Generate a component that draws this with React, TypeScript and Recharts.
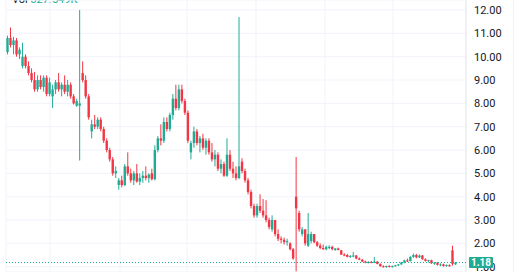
import { ComposedChart, Bar, XAxis, YAxis, CartesianGrid, ReferenceLine } from "recharts";

// daily OHLC left to right
const opens = [
  10.2, 10.8, 10.5, 10.7, 10.1, 9.6, 10.0, 9.6, 9.3, 9.0,
  8.6, 9.0, 8.7, 9.1, 8.4, 8.3, 8.6, 8.9, 8.6, 8.8,
  8.5, 8.8, 8.3, 7.9, 7.9, 9.3, 9.0, 8.3, 6.8, 7.1,
  7.0, 7.3, 6.9, 6.4, 6.0, 5.6, 5.0, 4.5, 4.7, 4.5,
  5.3, 5.0, 4.7, 5.0, 4.65, 4.8, 4.9, 4.8, 5.0, 4.75,
  6.0, 6.5, 6.4, 7.2, 6.9, 7.5, 8.2, 7.8, 8.6, 8.1,
  7.6, 5.9, 6.3, 6.8, 6.3, 6.5, 6.1, 6.4, 5.9, 5.6,
  5.8, 5.2, 5.4, 4.9, 5.8, 5.2, 5.0, 4.8, 5.5, 5.1,
  4.7, 4.2, 3.6, 3.2, 3.6, 3.4, 3.2, 3.0, 2.6, 3.0,
  2.4, 2.2, 2.15, 2.05, 2.0, 1.75, 4.0, 3.3, 2.4, 2.6,
  1.9, 2.1, 2.4, 2.05, 1.9, 1.8, 1.75, 1.8, 1.85, 1.72,
  1.78, 1.7, 1.52, 1.5, 1.42, 1.44, 1.48, 1.35, 1.3, 1.22,
  1.18, 1.2, 1.17, 1.22, 1.12, 1.02, 1.0, 1.03, 0.99, 1.03,
  1.06, 1.1, 1.18, 1.27, 1.24, 1.42, 1.5, 1.4, 1.48, 1.32,
  1.25, 1.28, 1.15, 1.17, 1.08, 1.1, 1.03, 1.07, 1.7, 1.1,
];
const highs = [
  10.9, 11.25, 10.85, 10.8, 10.4, 10.6, 10.1, 9.8, 9.5, 9.35,
  9.2, 9.2, 9.2, 9.2, 9.1, 8.8, 9.0, 9.3, 8.9, 9.2,
  9.0, 8.9, 8.4, 8.2, 12.0, 9.8, 9.2, 8.4, 7.3, 7.5,
  7.4, 7.4, 7.0, 6.5, 6.1, 5.7, 5.3, 4.8, 4.9, 5.4,
  5.9, 5.2, 5.1, 5.4, 5.0, 5.1, 5.3, 5.0, 5.2, 6.2,
  6.6, 7.1, 7.4, 7.4, 7.6, 8.4, 8.8, 8.8, 8.8, 8.2,
  7.7, 6.4, 7.0, 6.9, 6.6, 6.7, 6.5, 6.5, 6.3, 6.0,
  5.9, 5.6, 5.5, 6.5, 6.0, 5.5, 5.3, 11.7, 5.65, 5.2,
  4.8, 4.3, 3.7, 3.7, 4.1, 3.9, 3.85, 3.1, 3.2, 3.0,
  2.6, 2.3, 2.25, 2.2, 2.05, 1.8, 5.7, 3.4, 2.7, 2.6,
  3.3, 2.5, 2.4, 2.1, 2.0, 1.95, 1.9, 1.92, 1.9, 1.8,
  1.82, 1.72, 1.58, 1.55, 1.5, 1.63, 1.5, 1.4, 1.33, 1.26,
  1.24, 1.25, 1.41, 1.24, 1.14, 1.06, 1.05, 1.06, 1.05, 1.08,
  1.12, 1.2, 1.3, 1.35, 1.45, 1.56, 1.55, 1.52, 1.5, 1.36,
  1.3, 1.3, 1.2, 1.2, 1.14, 1.13, 1.1, 1.1, 1.9, 1.2,
];
const lows = [
  10.1, 10.4, 10.1, 10.0, 9.9, 9.5, 9.5, 9.2, 8.9, 8.5,
  8.5, 8.6, 8.5, 8.3, 8.3, 7.8, 8.4, 8.5, 8.3, 8.4,
  8.3, 8.2, 7.95, 7.85, 5.55, 8.9, 8.2, 7.3, 6.5, 6.9,
  6.9, 6.8, 6.3, 5.9, 5.5, 4.9, 4.8, 4.3, 4.4, 4.45,
  4.9, 4.6, 4.5, 4.6, 4.5, 4.6, 4.7, 4.6, 4.7, 4.7,
  5.9, 6.2, 6.3, 6.8, 6.8, 7.3, 7.7, 7.7, 8.0, 7.5,
  6.3, 5.6, 6.1, 6.2, 5.9, 6.0, 5.8, 5.8, 5.5, 5.3,
  5.1, 5.0, 4.85, 4.85, 5.1, 4.8, 4.7, 4.75, 5.0, 4.6,
  4.1, 3.5, 3.1, 3.1, 3.3, 3.1, 2.9, 2.6, 2.5, 2.3,
  2.1, 2.0, 1.95, 1.9, 1.7, 1.3, 0.8, 2.5, 2.3, 1.9,
  1.85, 2.0, 2.0, 1.85, 1.75, 1.72, 1.7, 1.75, 1.7, 1.68,
  1.7, 1.5, 1.45, 1.4, 1.38, 1.4, 1.32, 1.28, 1.2, 1.15,
  1.14, 1.15, 1.15, 1.1, 1.0, 0.96, 0.95, 0.97, 0.96, 1.0,
  1.03, 1.08, 1.15, 1.2, 1.22, 1.38, 1.36, 1.37, 1.3, 1.22,
  1.18, 1.12, 1.08, 1.05, 1.02, 1.0, 1.0, 1.0, 1.05, 1.08,
];
const closes = [
  10.8, 10.5, 10.7, 10.1, 10.3, 10.0, 9.6, 9.3, 9.0, 8.6,
  9.0, 8.7, 9.1, 8.4, 8.9, 8.6, 8.9, 8.6, 8.8, 8.5,
  8.8, 8.3, 8.0, 8.1, 8.0, 9.0, 8.3, 7.4, 7.1, 7.0,
  7.3, 6.9, 6.4, 6.0, 5.6, 5.0, 5.1, 4.7, 4.5, 5.3,
  5.0, 4.7, 5.0, 4.65, 4.8, 4.9, 4.8, 4.95, 4.75, 6.0,
  6.5, 6.4, 7.2, 6.9, 7.5, 8.2, 7.8, 8.6, 8.1, 7.6,
  6.4, 6.3, 6.8, 6.3, 6.5, 6.1, 6.4, 5.9, 5.6, 5.8,
  5.2, 5.4, 4.9, 5.8, 5.2, 5.0, 4.8, 5.3, 5.1, 4.7,
  4.2, 3.6, 3.2, 3.6, 3.4, 3.2, 3.0, 2.7, 3.0, 2.4,
  2.2, 2.15, 2.05, 2.1, 1.75, 1.35, 3.5, 2.6, 2.6, 2.0,
  2.4, 2.4, 2.05, 1.9, 1.8, 1.75, 1.85, 1.85, 1.75, 1.78,
  1.72, 1.52, 1.5, 1.42, 1.46, 1.48, 1.35, 1.3, 1.22, 1.18,
  1.2, 1.17, 1.22, 1.12, 1.02, 1.0, 1.03, 0.99, 1.03, 1.06,
  1.1, 1.18, 1.27, 1.24, 1.42, 1.5, 1.4, 1.48, 1.32, 1.25,
  1.28, 1.15, 1.17, 1.08, 1.1, 1.03, 1.07, 1.02, 1.12, 1.18,
];
const priceTicks = [1, 2, 3, 4, 5, 6, 7, 8, 9, 10, 11, 12];
const lastPrice = 1.18;
const volumeText = "327.549K";

const UP = "#22ab94";
const DOWN = "#f23645";

const data = opens.map((o, i) => ({
  i,
  open: o,
  high: highs[i],
  low: lows[i],
  close: closes[i],
  range: [lows[i], highs[i]],
}));

function Candle(props: any) {
  const { x, y, width, height, payload } = props;
  if (!payload || height == null) return null;
  const { open, close, high, low } = payload;
  const color = close >= open ? UP : DOWN;
  const k = height / (high - low || 1);
  const yo = y + (high - open) * k;
  const yc = y + (high - close) * k;
  const cx = x + width / 2;
  const bw = Math.max(1, width * 0.8);
  const top = Math.min(yo, yc);
  const bh = Math.max(1, Math.abs(yc - yo));
  return (
    <g>
      <line x1={cx} x2={cx} y1={y} y2={y + height} stroke={color} strokeWidth={1} />
      <rect x={cx - bw / 2} y={top} width={bw} height={bh} fill={color} />
    </g>
  );
}

function PriceTag(props: any) {
  const { x, y, width } = props.viewBox;
  const left = x + width + 3;
  return (
    <g>
      <rect x={left} y={y - 5.5} width={24} height={11} rx={1} fill={UP} />
      <text x={left + 12} y={y + 3.5} textAnchor="middle" fill="#fff" fontSize={10} fontWeight={700} fontFamily="Roboto">
        {lastPrice.toFixed(2)}
      </text>
    </g>
  );
}

export default function App() {
  return (
    <div style={{ position: "absolute", left: 0, top: 0, width: 520, height: 272, background: "#fff", overflow: "hidden" }}>
      <div style={{ position: "absolute", left: 12, top: -7, fontSize: 11, fontFamily: "Roboto", color: "#131722" }}>
        Vol <span style={{ color: UP }}>{volumeText}</span>
      </div>
      <div style={{ position: "absolute", left: 513, top: 0, width: 1, height: 272, background: "#f0f3fa" }} />
      <ComposedChart width={520} height={272} data={data} margin={{ top: 0, right: 0, bottom: 0, left: 6 }} barCategoryGap={0}>
        <CartesianGrid stroke="#f0f3fa" verticalPoints={[6, 50, 120, 187, 256, 325, 393]} />
        <XAxis dataKey="i" hide padding={{ left: 0, right: 9 }} />
        <YAxis
          orientation="right"
          width={54}
          domain={[0.773, 12.43]}
          allowDataOverflow
          ticks={priceTicks}
          interval={0}
          tickFormatter={(v: number) => v.toFixed(2)}
          tick={{ fontSize: 11, fill: "#131722", fontFamily: "Roboto" }}
          tickLine={false}
          axisLine={{ stroke: "#e0e3eb" }}
        />
        <Bar dataKey="range" shape={<Candle />} isAnimationActive={false} />
        <ReferenceLine
          y={lastPrice}
          stroke={UP}
          strokeDasharray="1 2"
          label={<PriceTag />}
          {...({ zIndex: 2000 } as any)}
        />
      </ComposedChart>
    </div>
  );
}
